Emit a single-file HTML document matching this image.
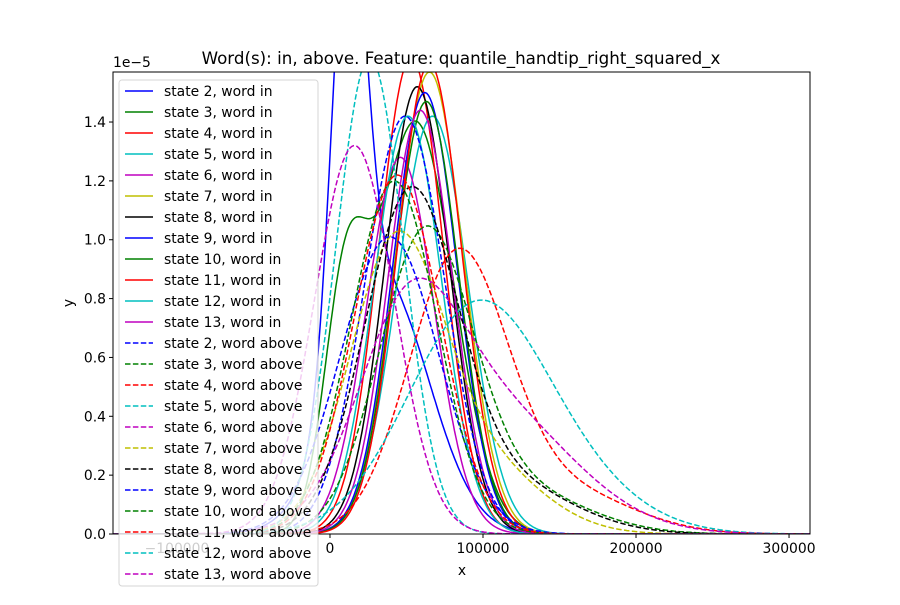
<!DOCTYPE html>
<html><head><meta charset="utf-8"><style>
body{margin:0;background:#fff}
svg text{font-family:"DejaVu Sans","Liberation Sans",sans-serif;fill:#000}
</style></head><body>
<svg id="chart" width="900" height="600" xmlns="http://www.w3.org/2000/svg">
<rect width="900" height="600" fill="#fff"/>
<g id="plot"></g>
<g id="axes"></g>
<g id="legend"></g>
</svg>
<script>
// ---- data (x in thousands, y in 1e-5) ----
const seriesNames = ["state 2, word in","state 3, word in","state 4, word in","state 5, word in","state 6, word in","state 7, word in","state 8, word in","state 9, word in","state 10, word in","state 11, word in","state 12, word in","state 13, word in",
"state 2, word above","state 3, word above","state 4, word above","state 5, word above","state 6, word above","state 7, word above","state 8, word above","state 9, word above","state 10, word above","state 11, word above","state 12, word above","state 13, word above"];
const seriesColors = ["#0000ff","#008000","#ff0000","#00bfbf","#bf00bf","#bfbf00","#000000","#0000ff","#008000","#ff0000","#00bfbf","#bf00bf",
"#0000ff","#008000","#ff0000","#00bfbf","#bf00bf","#bfbf00","#000000","#0000ff","#008000","#ff0000","#00bfbf","#bf00bf"];
const seriesDashed = [0,0,0,0,0,0,0,0,0,0,0,0,1,1,1,1,1,1,1,1,1,1,1,1];
// Gaussian components per series: means, sds, amps
const compMeans = [[12,35],[10,56],[53],[67],[46],[65],[57],[62],[63],[65],[51],[59],
[49],[62,120],[83,150],[95,160],[50,100],[42,95],[52,110],[39],[42],[44],[26],[16]];
const compSds = [[11,30],[14,25],[21],[23],[22],[22],[21],[21],[21],[21],[22],[21],
[26],[30,45],[32,45],[45,45],[32,55],[30,40],[30,45],[32],[28],[28],[22],[26]];
const compAmps = [[1.55,0.85],[0.75,1.40],[1.62],[1.42],[1.28],[1.57],[1.52],[1.50],[1.47],[1.60],[1.42],[1.44],
[1.42],[0.98,0.15],[0.92,0.15],[0.75,0.12],[0.55,0.45],[0.92,0.25],[1.10,0.18],[1.01],[1.20],[1.22],[1.62],[1.32]];
const xTicks = [-100000,0,100000,200000,300000];
const xTickLabels = ["\u2212100000","0","100000","200000","300000"];
const yTicks = [0,0.2,0.4,0.6,0.8,1.0,1.2,1.4];
const yTickLabels = ["0.0","0.2","0.4","0.6","0.8","1.0","1.2","1.4"];

const L=113,R=810,T=72,B=534;
const xMin=-141800,xMax=313700,yMin=0,yMax=1.57;
const sx=v=>L+(v-xMin)/(xMax-xMin)*(R-L);
const sy=v=>B-(v-yMin)/(yMax-yMin)*(B-T);
const NS="http://www.w3.org/2000/svg";
function mk(tag,attrs,parent){const e=document.createElementNS(NS,tag);for(const k in attrs)e.setAttribute(k,attrs[k]);parent.appendChild(e);return e;}

const svg=document.getElementById('chart');
const defs=mk('defs',{},svg);
const cp=mk('clipPath',{id:'clip'},defs);
mk('rect',{x:L,y:T,width:R-L,height:B-T},cp);
const plot=document.getElementById('plot');
plot.setAttribute('clip-path','url(#clip)');

seriesNames.forEach((nm,i)=>{
  let d="";
  for(let k=0;k<=400;k++){
    const x=xMin+(xMax-xMin)*k/400;const xt=x/1000;
    let y=0;
    compMeans[i].forEach((m,j)=>{const s=compSds[i][j];y+=compAmps[i][j]*Math.exp(-0.5*((xt-m)/s)**2);});
    d+=(k?"L":"M")+sx(x).toFixed(1)+","+sy(y).toFixed(1);
  }
  const p=mk('path',{d:d,fill:'none',stroke:seriesColors[i],'stroke-width':1.5,'stroke-dasharray':seriesDashed[i]?'5.5,2.4':'none'},plot);
  
  
});

const ax=document.getElementById('axes');
const frame=mk('rect',{x:L,y:T,width:R-L,height:B-T,fill:'none',stroke:'#000','stroke-width':1},ax);


xTicks.forEach((v,i)=>{
  const x=sx(v);
  mk('line',{x1:x,x2:x,y1:B,y2:B+4,stroke:'#000'},ax);
  const t=mk('text',{x:x,y:B+19,'text-anchor':'middle','font-size':13.9},ax);
  t.textContent=xTickLabels[i];
  
  
});
yTicks.forEach((v,i)=>{
  const y=sy(v);
  mk('line',{x1:L-4,x2:L,y1:y,y2:y,stroke:'#000'},ax);
  const t=mk('text',{x:L-7,y:y+5,'text-anchor':'end','font-size':13.9},ax);
  t.textContent=yTickLabels[i];
  
  
});
function txt(s,a,name){const t=mk('text',a,ax);t.textContent=s;return t;}
txt('1e\u22125',{x:L,y:67,'font-size':13.9},'y-offset-text');
txt('x',{x:462,y:575,'text-anchor':'middle','font-size':13.9},'x-axis-title');
txt('y',{x:73,y:303,'text-anchor':'middle','font-size':13.9,transform:'rotate(-90 73 303)'},'y-axis-title');
txt('Word(s): in, above. Feature: quantile_handtip_right_squared_x',{x:461,y:64,'text-anchor':'middle','font-size':16.7},'chart-title');

const lg=document.getElementById('legend');
const box=mk('rect',{x:119,y:80,width:199,height:506,rx:3,fill:'#fff','fill-opacity':0.8,stroke:'#ccc','stroke-opacity':0.8},lg);


seriesNames.forEach((nm,i)=>{
  const y=91+i*21;
  const g=mk('g',{},lg);
  
  
  mk('line',{x1:125,x2:153,y1:y,y2:y,stroke:seriesColors[i],'stroke-width':1.5,'stroke-dasharray':seriesDashed[i]?'5.5,2.4':'none'},g);
  const t=mk('text',{x:164,y:y+5,'font-size':13.9},g);
  t.textContent=nm;
});
</script>
</body></html>
